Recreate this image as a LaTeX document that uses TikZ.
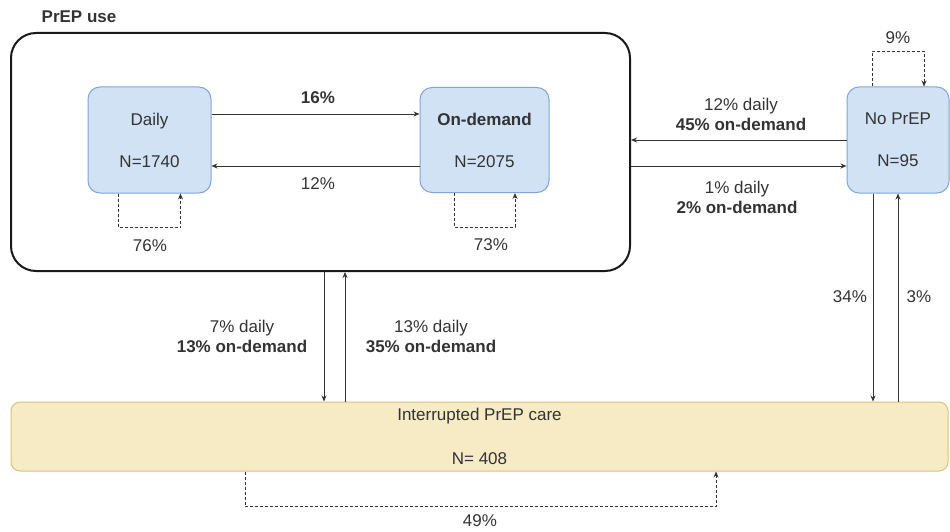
\documentclass[tikz,border=0pt]{standalone}
\usepackage{fontspec}
\setmainfont{Liberation Sans}
\usetikzlibrary{arrows.meta}
\definecolor{txt}{HTML}{333333}
\definecolor{bluefill}{HTML}{D0E2F4}
\definecolor{bluedraw}{HTML}{7EA6D8}
\definecolor{yelfill}{HTML}{F6EBC4}
\definecolor{yeldraw}{HTML}{D8C37A}
\tikzset{
  every node/.style={text=txt, font=\fontsize{17}{20}\selectfont, inner sep=0pt},
  state/.style={draw=bluedraw, fill=bluefill, line width=1pt, rounded corners=12pt, align=center},
  group/.style={draw=black!90, line width=2pt, rounded corners=25pt},
  interbox/.style={draw=yeldraw, fill=yelfill, line width=1pt, rounded corners=9pt, align=center},
  arr/.style={draw=txt, line width=0.9pt, -{Stealth[length=6pt,width=5pt]}},
  loopst/.style={draw=txt, line width=0.9pt, dash pattern=on 3pt off 2pt, -{Stealth[length=6pt,width=5pt]}},
  lbl/.style={align=center},
  bl/.style={font=\fontsize{17}{20}\selectfont\bfseries}
}
\begin{document}
\begin{tikzpicture}[x=1pt,y=-1pt]
\useasboundingbox (0,0) rectangle (950,532);
% group box
\node[group, minimum width=619pt, minimum height=238pt] (prep) at (320.5,152) {};
\node[bl] (title) at (79,17) {PrEP use};
% states
\node[state, minimum width=123pt, minimum height=106pt] (daily) at (149.5,140) {Daily\\[22pt]N=1740};
\node[state, minimum width=129pt, minimum height=105pt] (ond) at (484.5,140) {\textbf{On-demand}\\[22pt]N=2075};
\node[state, minimum width=102pt, minimum height=106pt] (nop) at (898,140) {No PrEP\\[22pt]N=95};
\node[interbox, minimum width=937pt, minimum height=69pt] (intr) at (479.5,436.5) {Interrupted PrEP care\\[24pt]N= 408};
% daily <-> on-demand
\draw[arr] ([yshift=26pt]daily.east) -- ([yshift=26pt]ond.west);
\draw[arr] ([yshift=-26pt]ond.west) -- ([yshift=-26pt]daily.east);
\node[bl] (l16) at (318,98) {16\%};
\node (l12) at (318,184) {12\%};
% self loops
\draw[loopst] ([xshift=-31pt]daily.south) -- ++(0,34) -| ([xshift=31pt]daily.south);
\node (l76) at (150,246) {76\%};
\draw[loopst] ([xshift=-30.5pt]ond.south) -- ++(0,34) -| ([xshift=30.5pt]ond.south);
\node (l73) at (491,245) {73\%};
\draw[loopst] ([xshift=-26pt]nop.north) -- ++(0,-35) -| ([xshift=26pt]nop.north);
\node (l9) at (898,38) {9\%};
\draw[loopst] ([xshift=-234.5pt]intr.south) -- ++(0,35) -| ([xshift=236.5pt]intr.south);
\node (l49) at (480,521) {49\%};
% PrEP use <-> No PrEP
\draw[arr] (nop.west) -- (nop.west -| prep.east);
\draw[arr] ([yshift=-26pt]nop.west -| prep.east) -- ([yshift=-26pt]nop.west);
\node[lbl] (l45) at (741,114) {12\% daily\\\textbf{45\% on-demand}};
\node[lbl] (l2) at (737,197.5) {1\% daily\\\textbf{2\% on-demand}};
% PrEP use <-> interrupted
\draw[arr] ([xshift=3.5pt]prep.south) -- ([xshift=3.5pt]prep.south |- intr.north);
\draw[arr] ([xshift=24.5pt]prep.south |- intr.north) -- ([xshift=24.5pt]prep.south);
\node[lbl] (l13) at (242,336.5) {7\% daily\\\textbf{13\% on-demand}};
\node[lbl] (l35) at (431,336.5) {13\% daily\\\textbf{35\% on-demand}};
% No PrEP <-> interrupted
\draw[arr] ([xshift=-25pt]nop.south) -- ([xshift=-25pt]nop.south |- intr.north);
\draw[arr] (nop.south |- intr.north) -- (nop.south);
\node (l34) at (850,297) {34\%};
\node (l3) at (919,297) {3\%};
\end{tikzpicture}
\end{document}
